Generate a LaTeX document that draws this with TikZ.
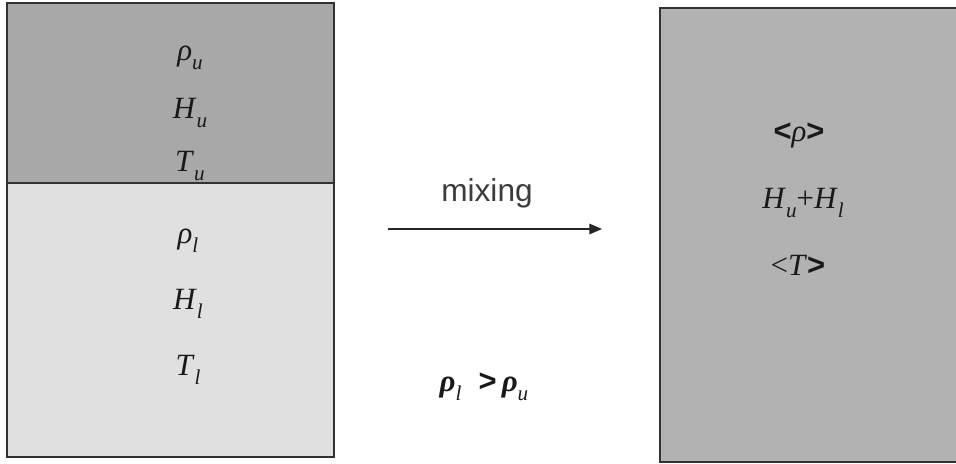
\documentclass[tikz,border=0pt]{standalone}
\usepackage{fontspec}
\setmainfont{Liberation Serif}
\setsansfont{Liberation Sans}
\usetikzlibrary{positioning,arrows.meta}

\newcommand{\lowsub}[1]{\raisebox{-0.28em}{\fontsize{15}{15}\selectfont #1}}
\newcommand{\qsub}[2]{\textit{#1}\lowsub{\textit{#2}}}

\begin{document}
\begin{tikzpicture}[x=0.025cm,y=-0.025cm,font=\fontsize{22}{26}\selectfont]

		\definecolor{UpperGray}{RGB}{168,168,168}
		\definecolor{LowerGray}{RGB}{224,224,224}
		\definecolor{MixedGray}{RGB}{178,178,178}
		\definecolor{EdgeGray}{RGB}{50,50,50}
		\definecolor{TextGray}{RGB}{60,60,60}

		\tikzset{
			layerBox/.style={
				draw=EdgeGray,
				line width=0.8pt,
			},
			qtyLabel/.style={
				inner sep=0pt,
				outer sep=0pt,
				text=black!90,
			},
			mixArrow/.style={
				draw=black!85,
				line width=0.9pt,
				-{Triangle[length=9pt,width=7.5pt]},
			},
		}

		\useasboundingbox (0,0) rectangle (956,464);
		\clip (0,0) rectangle (956,464);

		% Upper layer
		\filldraw[layerBox,fill=UpperGray] (7,3) rectangle (334,183);

		% Lower layer
		\filldraw[layerBox,fill=LowerGray] (7,183) rectangle (334,457);

		% Mixed column
		\filldraw[layerBox,fill=MixedGray] (660,8) rectangle (960,462);

		% Upper quantities
		\node[qtyLabel] (rhoU) at (190,58) {\qsub{ρ}{u}};
		\node[qtyLabel] (hU) at (190,113) {\qsub{H}{u}};
		\node[qtyLabel] (tU) at (190,166) {\qsub{T}{u}};

		% Lower quantities
		\node[qtyLabel] (rhoL) at (188,241) {\qsub{ρ}{l}};
		\node[qtyLabel] (hL) at (188,304) {\qsub{H}{l}};
		\node[qtyLabel] (tL) at (188,370) {\qsub{T}{l}};

		% Mixing
		\coordinate (arrowFrom) at (388,229);
		\coordinate (arrowTo) at (602,229);
		\draw[mixArrow] (arrowFrom) -- (arrowTo);
		\node[qtyLabel,text=TextGray,font=\sffamily\fontsize{22.5}{26}\selectfont] (mixing) at (487,193) {mixing};

		% Density condition
		\node[qtyLabel] (cond) at (484,387) {\textbf{\textit{ρ}}\lowsub{\textit{l}}\hspace{0.55em}\textsf{\textbf{>}}\,\textbf{\textit{ρ}}\lowsub{\textit{u}}};

		% Mixed quantities
		\node[qtyLabel] (rhoM) at (799,136) {\textsf{\textbf{<}}\textit{ρ}\textsf{\textbf{>}}};
		\node[qtyLabel] (hM) at (803,203) {\qsub{H}{u}+\qsub{H}{l}};
		\node[qtyLabel] (tM) at (798,265) {<\textit{T}\textsf{\textbf{>}}};

	\end{tikzpicture}
\end{document}
